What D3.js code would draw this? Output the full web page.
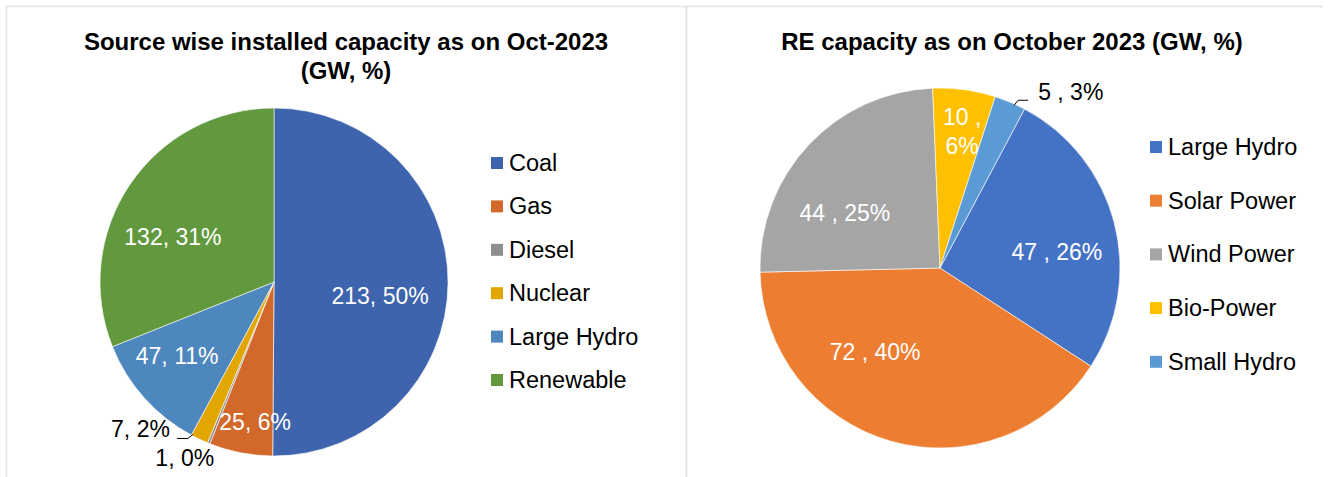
<!DOCTYPE html>
<html>
<head>
<meta charset="utf-8">
<script src="https://cdn.jsdelivr.net/npm/d3@7"></script>
<style>
  html, body { margin: 0; padding: 0; background: #fff; }
  svg { display: block; font-family: "Liberation Sans", Arial, sans-serif; }
</style>
</head>
<body>
<svg id="chart" width="1330" height="477"></svg>
<script>
// ---------- DATA ----------
const leftTitle = ["Source wise installed capacity as on Oct-2023", "(GW, %)"];
const leftCategories = ["Coal", "Gas", "Diesel", "Nuclear", "Large Hydro", "Renewable"];
const leftValues = [213, 25, 1, 7, 47, 132];
const leftPercents = [50, 6, 0, 2, 11, 31];
const leftColors = ["#3d64ad", "#d2692b", "#8e8e8e", "#e2a600", "#4e87bd", "#62993f"];

const rightTitle = ["RE capacity as on October 2023 (GW, %)"];
const rightCategories = ["Large Hydro", "Solar Power", "Wind Power", "Bio-Power", "Small Hydro"];
const rightValues = [47, 72, 44, 10, 5];
const rightPercents = [26, 40, 25, 6, 3];
const rightColors = ["#4472c4", "#ed7d31", "#a5a5a5", "#ffc000", "#5b9bd5"];

// ---------- LAYOUT ----------
const svg = d3.select("#chart");
const rad = Math.PI / 180;

// panel borders
const borderColor = "#e3e3e3";
svg.append("path").attr("d", "M6.5,477 V6.5 H686.5 V477").attr("fill", "none").attr("stroke", borderColor).attr("stroke-width", 1.5);
svg.append("path").attr("d", "M686.5,477 V6.5 H1323").attr("fill", "none").attr("stroke", borderColor).attr("stroke-width", 1.5);

function drawPie(cfg) {
  const g = svg.append("g");
  // title
  cfg.title.forEach((t, i) => {
    g.append("text")
      .attr("x", cfg.titleX).attr("y", cfg.titleY + i * 29)
      .attr("text-anchor", "middle")
      .attr("font-size", 24).attr("font-weight", "bold").attr("fill", "#000")
      .text(t);
  });

  const pie = d3.pie().sort(null).value(d => d.v)
    .startAngle(cfg.startDeg * rad).endAngle((cfg.startDeg + 360) * rad);
  const data = cfg.cats.map((c, i) => ({ c, v: cfg.vals[i], p: cfg.pcts[i], col: cfg.colors[i], i }));
  const arcs = pie(data);
  const arc = d3.arc().innerRadius(0).outerRadius(cfg.r);

  const pg = g.append("g").attr("transform", `translate(${cfg.cx},${cfg.cy})`);
  pg.selectAll("path.slice").data(arcs).enter().append("path")
    .attr("class", "slice")
    .attr("d", arc)
    .attr("fill", d => d.data.col)
    .attr("stroke", "#ffffff").attr("stroke-width", 0.6);

  const polar = (a, rr) => [rr * Math.sin(a * rad), -rr * Math.cos(a * rad)];

  // labels
  arcs.forEach((a, i) => {
    const L = cfg.labels[i];
    const txt = cfg.fmt(a.data.v, a.data.p);
    if (L.inside) {
      const [x, y] = polar(L.ang, L.rf * cfg.r);
      let lines = [txt];
      if (L.split) {
        const parts = txt.split(L.split);
        lines = [parts[0] + L.split.trimEnd(), parts[1]];
      }
      const t = pg.append("text")
        .attr("text-anchor", "middle")
        .attr("font-size", 23).attr("fill", "#ffffff");
      lines.forEach((ln, k) => {
        t.append("tspan").attr("x", x)
          .attr("y", y + 8 + (k - (lines.length - 1) / 2) * 29)
          .text(ln);
      });
    } else {
      const mid = (a.startAngle + a.endAngle) / 2 / rad + (L.edgeShift || 0);
      const [ex, ey] = polar(mid, cfg.r);
      const tx = ex + L.dx, ty = ey + L.dy;
      pg.append("text")
        .attr("x", tx).attr("y", ty + 8)
        .attr("text-anchor", L.anchor)
        .attr("font-size", 23).attr("fill", "#000")
        .text(txt);
      if (L.leader) {
        const pts = L.leader.map(p => [ex + p[0], ey + p[1]]);
        pg.append("path").attr("d", d3.line()(pts))
          .attr("fill", "none").attr("stroke", "#000").attr("stroke-width", 1);
      }
    }
  });

  // legend
  const lg = g.append("g");
  cfg.cats.forEach((c, i) => {
    const y = cfg.legY + i * cfg.legStep;
    lg.append("rect").attr("x", cfg.legX).attr("y", y - 6).attr("width", 12).attr("height", 12)
      .attr("fill", cfg.colors[i]);
    lg.append("text").attr("x", cfg.legX + 18).attr("y", y + 8)
      .attr("font-size", 23.5).attr("fill", "#000").text(c);
  });
}

drawPie({
  title: leftTitle, titleX: 346, titleY: 50,
  cats: leftCategories, vals: leftValues, pcts: leftPercents, colors: leftColors,
  cx: 274, cy: 282, r: 174, startDeg: 0,
  fmt: (v, p) => `${v}, ${p}%`,
  labels: [
    { inside: true, ang: 97.5, rf: 0.615 },
    { inside: true, ang: 187.7, rf: 0.81 },
    { inside: false, anchor: "middle", dx: -24, dy: 15, edgeShift: 0 },
    { inside: false, anchor: "end", dx: -24, dy: -7, edgeShift: 2,
      leader: [[-1, -2], [-6, 2], [-17, 2]] },
    { inside: true, ang: 232.7, rf: 0.70 },
    { inside: true, ang: 294, rf: 0.636 }
  ],
  legX: 491, legY: 163, legStep: 43.4
});

drawPie({
  title: rightTitle, titleX: 1012, titleY: 50,
  cats: rightCategories, vals: rightValues, pcts: rightPercents, colors: rightColors,
  cx: 940, cy: 268, r: 180, startDeg: 28,
  fmt: (v, p) => `${v} , ${p}%`,
  labels: [
    { inside: true, ang: 82, rf: 0.656 },
    { inside: true, ang: 217.7, rf: 0.59 },
    { inside: true, ang: 300, rf: 0.61 },
    { inside: true, ang: 9.2, rf: 0.77, split: " , " },
    { inside: false, anchor: "start", dx: 28, dy: -10, edgeShift: 0,
      leader: [[4, 3], [8, -2], [18, -2]] }
  ],
  legX: 1150, legY: 147, legStep: 53.7
});
</script>
</body>
</html>
